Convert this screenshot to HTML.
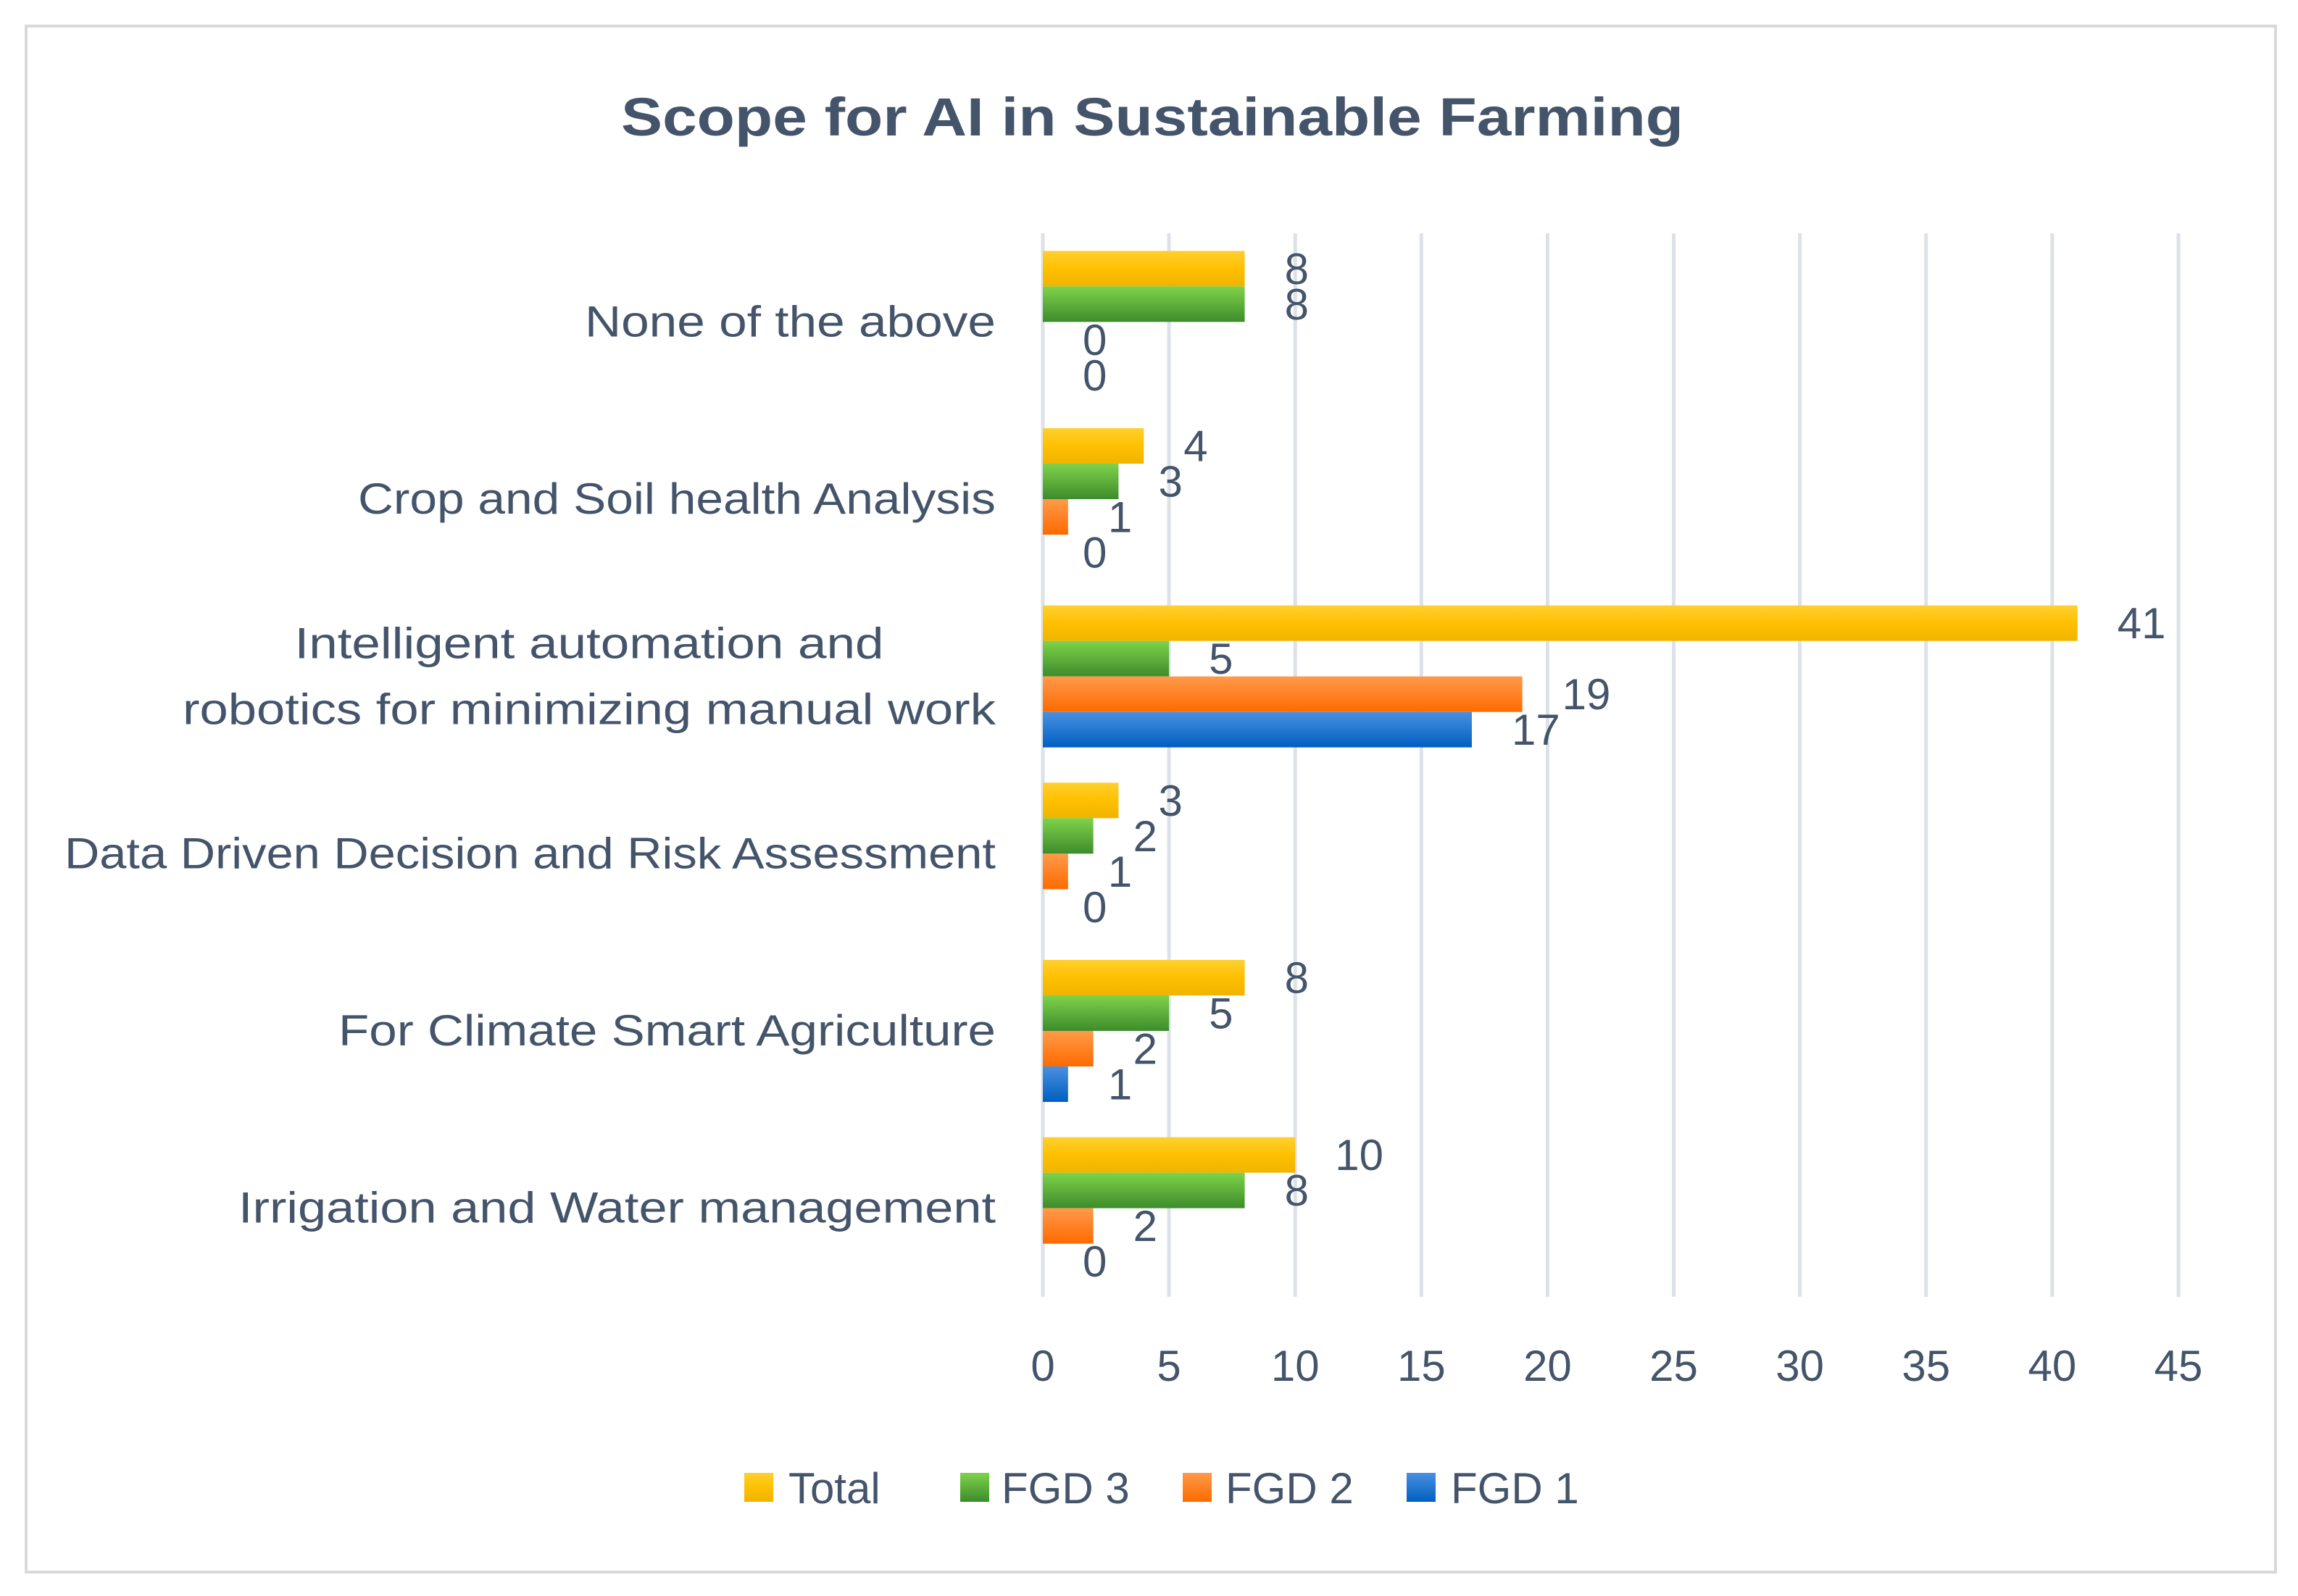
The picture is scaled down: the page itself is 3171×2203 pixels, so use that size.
<!DOCTYPE html>
<html><head><meta charset="utf-8"><style>
html,body{margin:0;padding:0;background:#fff;}
svg{display:block;font-family:"Liberation Sans",sans-serif;}
</style></head><body>
<svg id="chart" width="3171" height="2203" viewBox="0 0 3171 2203">
<defs>
<linearGradient id="gY" x1="0" y1="0" x2="0" y2="1"><stop offset="0" stop-color="#ffd030"/><stop offset="0.5" stop-color="#ffc000"/><stop offset="1" stop-color="#f0b400"/></linearGradient>
<linearGradient id="gG" x1="0" y1="0" x2="0" y2="1"><stop offset="0" stop-color="#7fd34a"/><stop offset="1" stop-color="#3d8c2c"/></linearGradient>
<linearGradient id="gO" x1="0" y1="0" x2="0" y2="1"><stop offset="0" stop-color="#ff9a4a"/><stop offset="1" stop-color="#ff6a00"/></linearGradient>
<linearGradient id="gB" x1="0" y1="0" x2="0" y2="1"><stop offset="0" stop-color="#4a90e2"/><stop offset="1" stop-color="#005fc0"/></linearGradient>
</defs>
<rect x="36" y="36" width="3104" height="2134" fill="#fff" stroke="#d9d9d9" stroke-width="4"/>
<text x="1590" y="187" text-anchor="middle" font-size="74" font-weight="bold" fill="#44546a" textLength="1466" lengthAdjust="spacingAndGlyphs">Scope for AI in Sustainable Farming</text>
<g id="grid"></g><g id="bars"></g><g id="labels"></g><g id="cats"></g><g id="ticks"></g>
<g>
<rect x="1027" y="2033" width="40" height="40" fill="url(#gY)"/>
<text x="1088" y="2075" font-size="60" fill="#44546a">Total</text>
<rect x="1325" y="2033" width="40" height="40" fill="url(#gG)"/>
<text x="1382" y="2075" font-size="60" fill="#44546a">FGD 3</text>
<rect x="1632" y="2033" width="40" height="40" fill="url(#gO)"/>
<text x="1691" y="2075" font-size="60" fill="#44546a">FGD 2</text>
<rect x="1941" y="2033" width="40" height="40" fill="url(#gB)"/>
<text x="2002" y="2075" font-size="60" fill="#44546a">FGD 1</text>
</g>
</svg>
<script>
const categories = ["None of the above","Crop and Soil health Analysis","Intelligent automation and|robotics for minimizing manual work","Data Driven Decision and Risk Assessment","For Climate Smart Agriculture","Irrigation and Water management"];
const totalValues = [8,4,41,3,8,10];
const fgd3Values = [8,3,5,2,5,8];
const fgd2Values = [0,1,19,1,2,2];
const fgd1Values = [0,0,17,0,1,0];
const xTicks = [0,5,10,15,20,25,30,35,40,45];
const catWidths = [567,880,1122,1285,907,1045];

const NS="http://www.w3.org/2000/svg";
const X0=1439, X1=3006, XMAX=45, TOP=322, BOT=1790;
const band=(BOT-TOP)/categories.length, barH=49, pad=(band-4*barH)/2;
const xs=v=>X0+(X1-X0)*v/XMAX;
function mk(tag,attrs,parent){const e=document.createElementNS(NS,tag);for(const k in attrs)e.setAttribute(k,attrs[k]);parent.appendChild(e);return e;}
const grid=document.getElementById('grid'),bars=document.getElementById('bars'),labels=document.getElementById('labels'),cats=document.getElementById('cats'),ticks=document.getElementById('ticks');
xTicks.forEach(t=>{
  const l=mk('line',{x1:xs(t),x2:xs(t),y1:TOP,y2:BOT,stroke:'#dde2e8','stroke-width':5},grid);
  
  
  const tx=mk('text',{x:xs(t),y:1906,'text-anchor':'middle','font-size':60,fill:'#44546a'},ticks);
  tx.textContent=t;
  
  
});
const series=[["total",totalValues,"url(#gY)"],["fgd3",fgd3Values,"url(#gG)"],["fgd2",fgd2Values,"url(#gO)"],["fgd1",fgd1Values,"url(#gB)"]];
categories.forEach((c,i)=>{
  const bt=TOP+band*i+pad;
  series.forEach((s,j)=>{
    const v=s[1][i], y=bt+j*barH;
    const r=mk('rect',{x:X0,y:y,width:Math.max(0,xs(v)-X0),height:barH,fill:s[2]},bars);
    
    
    const t=mk('text',{x:xs(v)+55,y:y+barH/2+21,'font-size':60,fill:'#44546a'},labels);
    t.textContent=v;
    
    
  });
  const cy=TOP+band*(i+0.5);
  const parts=c.split('|');
  if(parts.length===1){
    const t=mk('text',{x:1374,y:cy+20,'text-anchor':'end','font-size':60,fill:'#44546a',textLength:catWidths[i],lengthAdjust:'spacingAndGlyphs'},cats);
    t.textContent=c;
    
    
  } else {
    const w=catWidths[i], cx=1374-w/2;
    const t1=mk('text',{x:cx,y:cy-25,'text-anchor':'middle','font-size':60,fill:'#44546a',textLength:813,lengthAdjust:'spacingAndGlyphs'},cats);
    t1.textContent=parts[0];
    
    
    const t2=mk('text',{x:cx,y:cy+66,'text-anchor':'middle','font-size':60,fill:'#44546a',textLength:w,lengthAdjust:'spacingAndGlyphs'},cats);
    t2.textContent=parts[1];
    
    
  }
});
</script>
</body></html>
